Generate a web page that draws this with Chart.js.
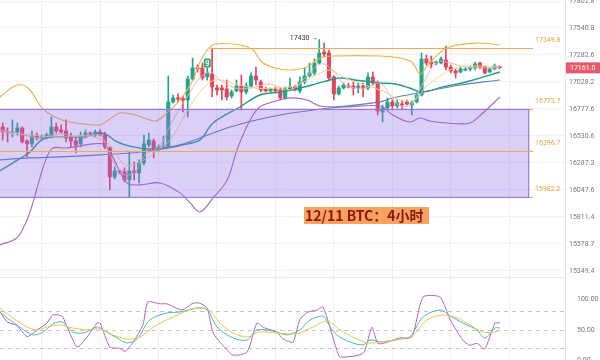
<!DOCTYPE html>
<html lang="zh">
<head>
<meta charset="UTF-8">
<title>12/11 BTC 4小时</title>
<script src="https://cdn.jsdelivr.net/npm/chart.js@4.4.0/dist/chart.umd.min.js"></script>
<style>
  html, body { margin: 0; padding: 0; background: #fff; overflow: hidden; }
  #wrap { position: relative; width: 600px; height: 360px; overflow: hidden; }
  #top { position: absolute; left: 0; top: 0; }
  #bot { position: absolute; left: 0; top: 277px; }
  #title {
    position: absolute; left: 304px; top: 207px; width: 125px; height: 17px;
    background: #f6a35f; color: #8e1414; box-sizing: border-box; padding-left: 1px;
    font: bold 14px "Noto Sans CJK SC", sans-serif; line-height: 17px; white-space: nowrap;
  }
</style>
</head>
<body>
<div id="wrap">
  <canvas id="top" width="600" height="277"></canvas>
  <canvas id="bot" width="600" height="100"></canvas>
  <div id="title">12/11 BTC：4小时</div>
</div>
<script>
// 4h candles, index 0..102
const OPEN  = [16613,16567,16558,16567,16604,16486,16459,16531,16513,16513,16522,16613,16586,16576,16513,16486,16459,16522,16558,16540,16567,16540,16422,16163,16217,16208,16137,16217,16199,16288,16450,16486,16404,16432,16432,16843,16880,16875,16861,17056,17160,17160,17075,17103,16972,16972,16963,16898,16945,16991,16935,16991,17085,17029,16963,16945,16963,16954,16880,16963,16982,16945,17029,17085,17113,17207,17311,17302,17075,16917,16972,16991,16991,16972,16991,16972,17075,17019,16750,16787,16843,16805,16824,16843,16815,16843,16907,17245,17216,17207,17207,17235,17169,17132,17122,17141,17151,17160,17207,17169,17122,17151,17175];
const HIGH  = [16649,16604,16677,16649,16613,16495,16576,16558,16540,16558,16704,16649,16632,16677,16558,16522,16567,16586,16567,16586,16586,16567,16432,16253,16226,16244,16386,16297,16315,16540,16558,16504,16450,16531,17085,16907,16917,16898,17085,17254,17188,17207,17160,17349,17000,17000,17047,16954,17047,17094,17019,17113,17169,17047,16982,16972,16982,16972,16982,17066,17000,17075,17160,17207,17245,17430,17397,17330,17085,16991,17019,17019,17029,17019,17019,17113,17122,17038,16815,16880,16861,16861,16861,16861,16852,16926,17302,17283,17273,17226,17264,17368,17188,17151,17169,17160,17179,17216,17216,17179,17160,17198,17179];
const LOW   = [16495,16477,16522,16540,16468,16342,16432,16495,16504,16504,16513,16558,16558,16477,16432,16377,16432,16513,16540,16522,16531,16413,16048,16145,16190,16119,15987,16137,16110,16270,16432,16333,16395,16413,16422,16833,16843,16750,16704,17047,17122,17047,17047,16889,16907,16861,16861,16880,16935,16769,16917,16972,17000,16935,16935,16935,16926,16861,16870,16954,16945,16926,17010,17075,17094,17198,17264,17047,16861,16907,16963,16972,16907,16926,16889,16954,17000,16723,16658,16769,16769,16787,16769,16815,16723,16833,16898,17188,17160,17188,17198,17141,17113,17066,17113,17132,17132,17141,17151,17103,17113,17141,17151];
const CLOSE = [16567,16558,16567,16604,16477,16459,16531,16513,16522,16540,16613,16576,16567,16513,16486,16450,16522,16558,16549,16567,16540,16432,16163,16217,16208,16137,16217,16199,16288,16459,16495,16404,16432,16441,16843,16880,16870,16861,17056,17160,17151,17066,17113,16982,16954,16954,16889,16935,16991,16935,16991,17085,17047,16954,16945,16963,16945,16880,16963,16982,16954,17029,17085,17113,17207,17302,17292,17066,16917,16972,17000,16982,16972,16991,16972,17075,17019,16759,16787,16843,16805,16833,16815,16824,16833,16907,17245,17207,17198,17216,17245,17169,17132,17113,17151,17151,17160,17198,17169,17113,17151,17179,17161];

// overlays: [candle index, price]
const BB_UPPER = [[-0.6,16889],[2.9,17000],[5.2,16972],[8.1,16787],[10.7,16704],[13.8,16658],[20,16632],[22,16686],[24.1,16741],[27.2,16723],[31.3,16667],[33.3,16723],[36.4,16861],[39.1,17047],[40.5,17216],[42,17330],[43.6,17387],[48.7,17378],[51.4,17330],[53.2,17216],[55.9,17160],[59,17141],[62.5,17169],[65.2,17254],[68.2,17273],[77.5,17273],[81.6,17254],[84,17216],[85.7,17103],[87.3,17188],[91.2,17349],[97.4,17397],[102.1,17378]];
const BB_LOWER = [[-0.6,15571],[2.9,15631],[5,15788],[6.2,15934],[7.7,16163],[9.1,16342],[10.3,16422],[13.2,16422],[18.5,16459],[20.6,16459],[21.4,16432],[22.6,16342],[25.5,16110],[28.2,16093],[32.3,16110],[36.4,16022],[38.5,15934],[40.5,15855],[43.2,15978],[46.1,16137],[48.1,16404],[50.8,16677],[52.8,16796],[55.5,16843],[59,16880],[62.5,16861],[65.2,16805],[70.7,16796],[77.5,16805],[80.1,16723],[83.6,16658],[85.7,16695],[87.7,16667],[91.2,16649],[95.9,16649],[98.6,16741],[102.1,16889]];
const MA_TEAL = [[-0.6,16217],[2.1,16288],[5.6,16386],[7.7,16486],[9.7,16522],[16.5,16522],[20,16558],[21.4,16540],[23.5,16477],[26.8,16432],[30.2,16413],[33.7,16422],[37,16450],[40.5,16495],[43.2,16649],[48.7,16796],[52.8,16907],[56.9,16935],[60.4,16963],[65.8,17029],[69.3,17066],[72.3,17047],[77.5,17019],[80.6,17010],[83.6,16972],[86.1,16935],[90.4,16982],[95.9,17038],[102.1,17122]];
const MA_BLUE = [[-0.6,16315],[5.6,16333],[11.8,16342],[20,16360],[28.2,16386],[36.4,16450],[46.7,16613],[56.9,16723],[67.2,16787],[77.5,16843],[80.1,16880],[86.3,16935],[93.9,17000],[102.1,17047]];
const MA_PINK = [[-0.6,16586],[3.5,16549],[7.7,16513],[11.8,16549],[15.9,16522],[20,16540],[21.6,16404],[23.1,16270],[25.1,16181],[27.2,16208],[29.2,16360],[32.3,16441],[34.4,16632],[36.4,16787],[38.5,16935],[40.5,17066],[42.6,17122],[44.6,17047],[47.7,16972],[50.8,16972],[54.9,17010],[59,16954],[62.1,17066],[65.2,17198],[67.8,17141],[70.3,17000],[74.4,16972],[77.5,17019],[79.5,16907],[81.6,16805],[84,16824],[86.1,17000],[89.2,17216],[91.9,17207],[94.9,17169],[98,17160],[102.1,17160]];
const MA_YELLOW = [[-0.6,16567],[5.6,16540],[11.8,16522],[17.9,16531],[22,16450],[25.1,16270],[28.2,16297],[31.3,16386],[34.4,16495],[37.4,16723],[40.5,16935],[43.6,17047],[47.7,17010],[51.8,16972],[55.9,16972],[60,16991],[64.1,17085],[67.2,17141],[70.3,17066],[74.4,17000],[78.5,16935],[81.6,16861],[84.7,16861],[86.7,16972],[89.8,17085],[92.9,17160],[97,17179],[102.1,17169]];

const KDJ_K = [[-0.6,78.8],[1.5,65.9],[3.5,54.5],[6.2,41.6],[8.3,46.4],[10.3,59.4],[12.2,62.6],[14.4,46.4],[16.5,44.8],[19.4,54.5],[20.6,49.7],[23.5,36.7],[25.5,28.6],[27.6,35.1],[30.2,65.9],[33.7,77.2],[36.4,78.8],[39.9,85.3],[42,82],[44,54.5],[47.3,36.7],[50.2,33.5],[52.2,49.7],[55.5,48.1],[58.4,41.6],[61,49.7],[63.1,65.9],[65.8,72.3],[66.6,62.6],[68.6,41.6],[71.3,30.3],[74,25.4],[75.4,33.5],[78.1,30.3],[81.6,35.1],[83.6,38.3],[86.3,70.7],[89.8,82],[91.9,72.3],[94.5,61],[97.4,49.7],[99,36.7],[101.1,52.9],[102.1,52.9]];
const KDJ_D = [[-0.6,85.3],[2.1,69.1],[5,54.5],[7,49.7],[9.1,54.5],[11.8,57.8],[14.4,52.9],[17.3,49.7],[20,51.3],[22.7,41.6],[25.5,35.1],[28.2,38.3],[30.9,54.5],[35,70.7],[39.1,83.7],[42,83.7],[44.6,61],[47.3,44.8],[50.2,38.3],[52.8,46.4],[56.3,44.8],[59.6,43.2],[61,44.8],[63.7,54.5],[66.6,64.2],[69.3,49.7],[71.9,38.3],[74.8,28.6],[77.5,30.3],[81.6,35.1],[84.3,41.6],[87.1,65.9],[90.4,73.9],[93.3,69.1],[95.9,57.8],[98.6,46.4],[101.1,46.4],[102.1,49.7]];
const KDJ_J = [[-0.6,80],[0.9,63],[2.9,57],[5,39],[7,49],[9.1,61],[10.3,74],[12.2,72],[13.2,55],[15.3,22],[17.3,38],[19.4,61],[20,61],[22,22],[24.1,20],[25.1,15],[26.8,30],[28.8,58],[29.8,95],[32.3,92],[33.7,92],[36.8,82],[39.1,93],[40.5,93],[42,85],[43.2,45],[45.2,25],[47.3,9],[50.2,14],[52.2,61],[53.5,54],[56.3,46],[57.6,35],[59.6,30],[61,66],[62.5,78],[64.5,82],[65.8,87],[68.6,17],[69.3,6],[74,12],[75.8,54],[77,28],[78.1,28],[81.6,37],[84,38],[86.3,103],[89.8,103],[91.9,66],[94.5,33],[95.9,25],[97.4,28],[99,19],[101.1,61],[102.1,61]];

const PRICE_TICKS = [17802.8,17540.8,17282.6,17028.2,16777.6,16530.6,16287.3,16047.6,15811.4,15578.7,15349.4];
const KDJ_TICKS = [100,50,0];
const KDJ_LEVELS = [80,50,20];
const GRID_X = [8,20,32,44,56,68,80,92,104];
// horizontal levels: price, from index, to index
const LEVELS = [[17349.8,42.6,108.9],[16773.7,49.1,108.9],[16396.7,-1,108.9],[15982.2,-1,108.9]];
const BOX = {from:-1, to:108, top:16773.7, bottom:15982.2};
const LAST_PRICE = 17161.0;
const HIGH_MARK = 65;
const BADGE = {i:42, price:17207, text:'g'};

const X_MIN = -0.554, X_MAX = 115.46;
const UP = '#22a68b', DOWN = '#e5455b';

const idx = OPEN.map((_, i) => i);
const candleColor = idx.map(i => CLOSE[i] >= OPEN[i] ? UP : DOWN);
const pts = arr => arr.map(p => ({x: p[0], y: p[1]}));
function lineDs(arr, color, w) {
  return {type: 'line', data: pts(arr), borderColor: color, borderWidth: w, pointRadius: 0, tension: 0.35, fill: false, order: 1};
}

const axisFont = {family: 'Roboto', size: 7};

const topOverlay = {
  id: 'topOverlay',
  afterDatasetsDraw(chart) {
    const {ctx, scales: {x, y}} = chart;
    ctx.save();
    const seg = (p, a, b, col, w) => {
      const py = Math.round(y.getPixelForValue(p)) + 0.5;
      ctx.strokeStyle = col; ctx.lineWidth = w;
      ctx.beginPath(); ctx.moveTo(x.getPixelForValue(a), py); ctx.lineTo(x.getPixelForValue(b), py); ctx.stroke();
    };
    LEVELS.forEach(l => seg(l[0], l[1], l[2], '#f1a851', 1));
    // zone box
    const bx0 = x.getPixelForValue(BOX.from), bx1 = x.getPixelForValue(BOX.to);
    const by0 = y.getPixelForValue(BOX.top), by1 = y.getPixelForValue(BOX.bottom);
    ctx.fillStyle = 'rgba(145,105,232,0.33)';
    ctx.fillRect(bx0, by0, bx1 - bx0, by1 - by0);
    ctx.strokeStyle = '#9a7ad6'; ctx.lineWidth = 1.2;
    ctx.strokeRect(bx0, by0, bx1 - bx0, by1 - by0);
    seg(LEVELS[2][0], LEVELS[2][1], LEVELS[2][2], '#f1a851', 1);
    // level labels
    ctx.font = '7px Roboto'; ctx.fillStyle = '#eaa24a'; ctx.textAlign = 'left'; ctx.textBaseline = 'middle';
    LEVELS.forEach(l => ctx.fillText(l[0].toFixed(1), x.getPixelForValue(l[2]) + 2, y.getPixelForValue(l[0]) - 8));
    // high marker
    ctx.fillStyle = '#333'; ctx.textAlign = 'right';
    ctx.fillText(HIGH[HIGH_MARK] + ' →', x.getPixelForValue(HIGH_MARK) - 1, y.getPixelForValue(HIGH[HIGH_MARK]) - 1);
    // badge
    const gx = x.getPixelForValue(BADGE.i), gy = y.getPixelForValue(BADGE.price);
    ctx.fillStyle = '#2aa37a';
    ctx.beginPath(); ctx.roundRect(gx - 3.5, gy - 4.5, 7, 9, 1.5); ctx.fill();
    ctx.fillStyle = '#fff'; ctx.textAlign = 'center'; ctx.font = 'bold 7px Roboto';
    ctx.fillText(BADGE.text, gx, gy - 0.5);
    // last price tag
    const ty = y.getPixelForValue(LAST_PRICE);
    ctx.fillStyle = '#e8586c';
    ctx.fillRect(chart.chartArea.right + 1, ty - 5.5, 34, 11);
    ctx.fillStyle = '#fff'; ctx.font = '7px Roboto'; ctx.textAlign = 'left';
    ctx.fillText(LAST_PRICE.toFixed(1), chart.chartArea.right + 5, ty);
    ctx.restore();
  }
};

new Chart(document.getElementById('top'), {
  type: 'bar',
  data: {
    datasets: [
      lineDs(MA_YELLOW, 'rgba(242,210,120,0.9)', 1),
      lineDs(MA_PINK, 'rgba(240,170,190,0.9)', 1),
      lineDs(MA_BLUE, '#5a7fb8', 1.1),
      lineDs(MA_TEAL, '#1f9a8c', 1.4),
      lineDs(BB_UPPER, '#f0b23e', 1.1),
      lineDs(BB_LOWER, '#a463c4', 1.1),
      {type: 'bar', data: idx.map(i => ({x: i, y: [LOW[i], HIGH[i]]})), backgroundColor: candleColor,
       barThickness: 1, grouped: false, order: 11},
      {type: 'bar', data: idx.map(i => ({x: i, y: [OPEN[i], CLOSE[i]]})), backgroundColor: candleColor,
       barThickness: 3.4, minBarLength: 1, grouped: false, order: 10}
    ]
  },
  options: {
    responsive: false, animation: false, devicePixelRatio: 1,
    layout: {padding: 0},
    plugins: {legend: {display: false}, tooltip: {enabled: false}},
    scales: {
      x: {type: 'linear', min: X_MIN, max: X_MAX, bounds: 'data', offset: false,
          ticks: {display: false}, border: {display: false},
          grid: {color: '#f0f0f4', drawTicks: false, offset: false},
          afterBuildTicks: s => { s.ticks = GRID_X.map(v => ({value: v})); },
          afterFit: s => { s.height = 0; s.paddingLeft = 0; s.paddingRight = 0; }},
      y: {type: 'logarithmic', position: 'right', min: 15298.7, max: 17812.6, bounds: 'data',
          ticks: {font: axisFont, color: '#777', padding: 4, callback: v => Number(v).toFixed(1)},
          grid: {color: '#f2f2f5', drawTicks: false},
          border: {color: '#e2e2e2'},
          afterBuildTicks: s => { s.ticks = PRICE_TICKS.map(v => ({value: v})); },
          afterFit: s => { s.width = 35; s.paddingTop = 0; s.paddingBottom = 0; }}
    }
  },
  plugins: [topOverlay]
});

const botOverlay = {
  id: 'botOverlay',
  beforeDatasetsDraw(chart) {
    const {ctx, chartArea, scales: {y}} = chart;
    ctx.save();
    ctx.strokeStyle = '#c4c4c4'; ctx.lineWidth = 1; ctx.setLineDash([4, 4]);
    KDJ_LEVELS.forEach(v => {
      const py = Math.round(y.getPixelForValue(v)) + 0.5;
      ctx.beginPath(); ctx.moveTo(chartArea.left, py); ctx.lineTo(chartArea.right, py); ctx.stroke();
    });
    ctx.setLineDash([]);
    ctx.strokeStyle = '#ececec';
    ctx.beginPath(); ctx.moveTo(0, 0.5); ctx.lineTo(chartArea.right, 0.5); ctx.stroke();
    ctx.restore();
  }
};

new Chart(document.getElementById('bot'), {
  type: 'line',
  data: {
    datasets: [
      {data: pts(KDJ_D), borderColor: '#eec24a', borderWidth: 1, pointRadius: 0, tension: 0.3},
      {data: pts(KDJ_K), borderColor: '#3fbcc4', borderWidth: 1, pointRadius: 0, tension: 0.3},
      {data: pts(KDJ_J), borderColor: '#b760c6', borderWidth: 1, pointRadius: 0, tension: 0.2}
    ]
  },
  options: {
    responsive: false, animation: false, devicePixelRatio: 1,
    layout: {padding: 0},
    plugins: {legend: {display: false}, tooltip: {enabled: false}},
    scales: {
      x: {type: 'linear', min: X_MIN, max: X_MAX, bounds: 'data',
          ticks: {display: false}, border: {display: false},
          grid: {color: '#f0f0f4', drawTicks: false},
          afterBuildTicks: s => { s.ticks = GRID_X.map(v => ({value: v})); },
          afterFit: s => { s.height = 0; s.paddingLeft = 0; s.paddingRight = 0; }},
      y: {type: 'linear', position: 'right', min: -26.4, max: 135.4, bounds: 'data',
          ticks: {font: axisFont, color: '#777', padding: 4, callback: v => Number(v).toFixed(2)},
          grid: {display: false},
          border: {color: '#e2e2e2'},
          afterBuildTicks: s => { s.ticks = KDJ_TICKS.map(v => ({value: v})); },
          afterFit: s => { s.width = 35; s.paddingTop = 0; s.paddingBottom = 0; }}
    }
  },
  plugins: [botOverlay]
});
</script>
</body>
</html>
